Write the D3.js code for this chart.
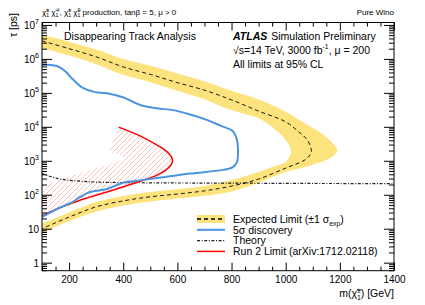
<!DOCTYPE html>
<html>
<head>
<meta charset="utf-8">
<script src="https://cdn.jsdelivr.net/npm/d3@7"></script>
<style>
  body { margin: 0; background: #fff; }
  text { font-family: "Liberation Sans", Arial, Helvetica, sans-serif; fill: #000; }
</style>
</head>
<body>
<div id="chart"></div>
<script>
// --- data ---
// expected limit, central line: upper branch -> nose -> lower branch
const expMass = [100, 200, 300, 400, 500, 600, 700, 800, 900, 1000, 1050, 1080, 1095, 1090, 1070, 1000, 900, 800, 700, 600, 500, 400, 300, 200, 100];
const expTau  = [3.4e6, 2.0e6, 1.15e6, 5.8e5, 3.5e5, 2.0e5, 1.2e5, 6.2e4, 2.9e4, 1.4e4, 6900, 4100, 2000, 1500, 1050, 610, 290, 180, 130, 105, 87, 66, 44, 22, 10];
// +1 sigma (outer) contour
const expHiMass = [100, 200, 300, 400, 500, 600, 700, 800, 900, 1000, 1050, 1100, 1150, 1190, 1150, 1100, 1050, 1000, 900, 800, 700, 600, 500, 400, 300, 200, 100];
const expHiTau  = [5.1e6, 3.2e6, 1.9e6, 1.0e6, 6.3e5, 3.7e5, 2.2e5, 1.15e5, 6.4e4, 2.8e4, 1.6e4, 9300, 5000, 1950, 1050, 770, 590, 465, 225, 125, 93, 77, 63, 48, 32, 16.5, 7.6];
// -1 sigma (inner) contour
const expLoMass = [100, 200, 300, 400, 500, 600, 700, 800, 900, 950, 1000, 1020, 1000, 950, 900, 800, 700, 600, 500, 400, 300, 200, 100];
const expLoTau  = [2.1e6, 1.25e6, 7.0e5, 3.4e5, 2.05e5, 1.15e5, 6.4e4, 3.1e4, 1.8e4, 9800, 4100, 1800, 920, 660, 465, 270, 182, 145, 121, 92, 61, 30, 14];
// 5 sigma discovery
const discMass = [100, 155, 185, 214, 251, 296, 340, 399, 462, 525, 584, 647, 709, 757, 805, 820, 824, 820, 805, 768, 647, 525, 462, 399, 340, 277, 240, 214, 155, 100];
const discTau  = [6.9e5, 6.2e5, 4.4e5, 2.5e5, 1.4e5, 1.05e5, 9.8e4, 7.4e4, 4.4e4, 3.5e4, 3.1e4, 2.3e4, 1.6e4, 1.1e4, 7400, 4100, 2100, 910, 650, 540, 420, 310, 265, 225, 148, 120, 85, 62, 38, 22];
// theory
const theoryMass = [100, 150, 200, 250, 300, 400, 600, 800, 1000, 1200, 1400];
const theoryTau  = [420, 310, 268, 248, 236, 228, 222, 220, 216, 214, 213];
// run 2 limit (arXiv:1712.02118)
const run2Mass = [383, 462, 525, 558, 580, 580, 558, 525, 462, 399, 340, 277, 251, 214, 155, 100];
const run2Tau  = [9800, 5400, 2900, 1950, 1200, 850, 540, 380, 250, 170, 120, 85, 74, 58, 38, 24];

const xTicks = [200, 400, 600, 800, 1000, 1200, 1400];
const yTicks = [1, 10, 1e2, 1e3, 1e4, 1e5, 1e6, 1e7];

const legendItems = ["Expected Limit", "5σ discovery", "Theory", "Run 2 Limit (arXiv:1712.02118)"];

// --- layout ---
const width = 425, height = 305;
const L = 42, R = 394, T = 22.5, B = 270.7;
const FS = 10.5;

const svg = d3.select("#chart").append("svg")
  .attr("width", width)
  .attr("height", height);

const x = d3.scaleLinear().domain([100, 1400]).range([L, R]);
const y = d3.scaleLog().domain([0.58, 1.18e7]).range([B, T]);

const defs = svg.append("defs");
defs.append("clipPath").attr("id", "clip")
  .append("rect").attr("x", L).attr("y", T).attr("width", R - L).attr("height", B - T);
defs.append("pattern")
  .attr("id", "hatch")
  .attr("patternUnits", "userSpaceOnUse")
  .attr("width", 5).attr("height", 5)
  .append("path")
  .attr("d", "M-1,1 l2,-2 M0,5 l5,-5 M4,6 l2,-2")
  .attr("stroke", "#f79a9a")
  .attr("stroke-width", 0.6);

// rich text helper: segments [text, kind] with kind n / sub / sup / supback
function rich(sel, segs, fs) {
  let level = 0;
  segs.forEach(([t, k]) => {
    const target = k === "sub" ? fs * 0.3 : (k === "sup" || k === "supback") ? -fs * 0.42 : 0;
    const ts = sel.append("tspan").attr("dy", target - level).text(t);
    if (k !== "n") ts.style("font-size", (fs * 0.65) + "px");
    if (k === "supback") ts.attr("dx", -fs * 0.36);
    level = target;
  });
}
const chi = (sup) => [["χ\u0303", "n"], ["1", "sub"], [sup, "supback"]];

const plot = svg.append("g").attr("clip-path", "url(#clip)");
const line = d3.line().x(d => x(d[0])).y(d => y(d[1])).curve(d3.curveCatmullRom.alpha(0.5));

// --- yellow band ---
const hiPts = d3.zip(expHiMass, expHiTau);
const loPts = d3.zip(expLoMass, expLoTau).reverse();
const bandD = line(hiPts) + "L" + line(loPts).slice(1) + "Z";
plot.append("path").attr("d", bandD).attr("fill", "#fde37e").attr("stroke", "none");

// --- run 2 hatched strip ---
const gHatch = plot.append("g");

// --- theory ---
plot.append("path").datum(d3.zip(theoryMass, theoryTau))
  .attr("d", line).attr("fill", "none")
  .attr("stroke", "#222").attr("stroke-width", 1.2)
  .attr("stroke-dasharray", "3,1.6,1,1.6");

// --- expected ---
plot.append("path").datum(d3.zip(expMass, expTau))
  .attr("d", line).attr("fill", "none")
  .attr("stroke", "#000").attr("stroke-width", 0.9)
  .attr("stroke-dasharray", "4,3");

// --- run 2 limit ---
const run2Path = plot.append("path").datum(d3.zip(run2Mass, run2Tau))
  .attr("d", line).attr("fill", "none")
  .attr("stroke", "#ff0000").attr("stroke-width", 1.5);

// hatch strip along the inside of the run 2 curve (ROOT style)
const node = run2Path.node();
const len = node.getTotalLength();
const pts = d3.range(0, len, 1).map(l => node.getPointAtLength(l));
pts.push(node.getPointAtLength(len));
const hw = 26;
const off = pts.map((p, i) => {
  const a = pts[Math.max(i - 3, 0)], b = pts[Math.min(i + 3, pts.length - 1)];
  const dx = b.x - a.x, dy = b.y - a.y, n = Math.hypot(dx, dy) || 1;
  return [p.x - hw * dy / n, p.y + hw * dx / n];
});
const strip = pts.map(p => [p.x, p.y]).concat(off.reverse());
gHatch.append("path")
  .attr("d", "M" + strip.map(p => p.join(",")).join("L") + "Z")
  .attr("fill", "url(#hatch)").attr("stroke", "none");

// --- 5 sigma discovery ---
plot.append("path").datum(d3.zip(discMass, discTau))
  .attr("d", line).attr("fill", "none")
  .attr("stroke", "#4a94e0").attr("stroke-width", 2);

// --- axes (ticks inside on all four sides) ---
const xMinor = d3.range(100, 1401, 50).filter(v => !xTicks.includes(v));
const yMinor = [];
for (let e = -1; e <= 7; e++) for (let k = 2; k <= 9; k++) {
  const v = k * Math.pow(10, e);
  if (v > 0.58 && v < 1.18e7) yMinor.push(v);
}

function styleAxis(g) {
  g.select(".domain").remove();
  g.selectAll(".tick line").attr("stroke", "#000");
  g.selectAll("text").style("font-size", "10px").attr("fill", "#000")
    .style("font-family", "'Liberation Sans', Arial, sans-serif");
}

const gx = svg.append("g").attr("transform", `translate(0,${B})`)
  .call(d3.axisBottom(x).tickValues(xTicks).tickSize(-8).tickPadding(5).tickFormat(d3.format("d")));
styleAxis(gx);
svg.append("g").attr("transform", `translate(0,${B})`)
  .call(d3.axisBottom(x).tickValues(xMinor).tickSize(-4).tickFormat(""))
  .call(styleAxis);
svg.append("g").attr("transform", `translate(0,${T})`)
  .call(d3.axisTop(x).tickValues(xTicks).tickSize(-8).tickFormat(""))
  .call(styleAxis);
svg.append("g").attr("transform", `translate(0,${T})`)
  .call(d3.axisTop(x).tickValues(xMinor).tickSize(-4).tickFormat(""))
  .call(styleAxis);

const gy = svg.append("g").attr("transform", `translate(${L},0)`)
  .call(d3.axisLeft(y).tickValues(yTicks).tickSize(-10).tickPadding(3).tickFormat(""));
styleAxis(gy);
svg.append("g").attr("transform", `translate(${L},0)`)
  .call(d3.axisLeft(y).tickValues(yMinor).tickSize(-5).tickFormat(""))
  .call(styleAxis);
svg.append("g").attr("transform", `translate(${R},0)`)
  .call(d3.axisRight(y).tickValues(yTicks).tickSize(-10).tickFormat(""))
  .call(styleAxis);
svg.append("g").attr("transform", `translate(${R},0)`)
  .call(d3.axisRight(y).tickValues(yMinor).tickSize(-5).tickFormat(""))
  .call(styleAxis);

// y tick labels as 10^n
gy.selectAll(".tick").each(function (d) {
  const e = Math.round(Math.log10(d));
  const t = d3.select(this).select("text").text(null)
    .attr("x", -3).attr("dy", "0.35em").attr("text-anchor", "end");
  if (e <= 1) { t.text(e === 0 ? "1" : "10"); return; }
  t.append("tspan").text("10");
  t.append("tspan").attr("dy", -4.5).style("font-size", "7px").text(e);
});

// frame
svg.append("rect").attr("x", L).attr("y", T).attr("width", R - L).attr("height", B - T)
  .attr("fill", "none").attr("stroke", "#000").attr("stroke-width", 1);

// --- axis titles ---
const xt = svg.append("text").attr("x", R).attr("y", 297).attr("text-anchor", "end")
  .style("font-size", FS + "px");
rich(xt, [["m(", "n"], ...chi("±"), [") [GeV]", "n"]], FS);

svg.append("text")
  .attr("transform", "translate(16.5,13) rotate(-90)")
  .attr("text-anchor", "end")
  .style("font-size", FS + "px")
  .text("τ [ps]");

// --- header ---
const hdr = svg.append("text").attr("x", L).attr("y", 15).style("font-size", "8px");
rich(hdr, [...chi("±"), [" ", "n"], ...chi("∓"), [", ", "n"], ...chi("±"), [" ", "n"], ...chi("0"),
  [" production, tanβ = 5, μ > 0", "n"]], 8);
svg.append("text").attr("x", R).attr("y", 15).attr("text-anchor", "end")
  .style("font-size", "8px").text("Pure Wino");

// --- labels in plot ---
svg.append("text").attr("x", 64).attr("y", 39.5).style("font-size", FS + "px")
  .text("Disappearing Track Analysis");

const atl = svg.append("text").attr("x", 233).attr("y", 39.5).style("font-size", FS + "px");
atl.append("tspan").style("font-weight", "bold").style("font-style", "italic").text("ATLAS");
atl.append("tspan").attr("dx", 4).text("Simulation Preliminary");

const cm = svg.append("text").attr("x", 233).attr("y", 53.5).style("font-size", FS + "px");
rich(cm, [["√s=14 TeV, 3000 fb", "n"], ["-1", "sup"], [", μ = 200", "n"]], FS);

svg.append("text").attr("x", 233).attr("y", 67.5).style("font-size", FS + "px")
  .text("All limits at 95% CL");

// --- legend ---
const legY = [219, 229.8, 240.6, 251.4];
const lx0 = 197, lx1 = 225, ltx = 233;
const leg = svg.append("g");
leg.append("rect").attr("x", lx0).attr("y", legY[0] - 4).attr("width", lx1 - lx0).attr("height", 8)
  .attr("fill", "#fde37e");
leg.append("line").attr("x1", lx0).attr("x2", lx1).attr("y1", legY[0]).attr("y2", legY[0])
  .attr("stroke", "#000").attr("stroke-width", 1.3).attr("stroke-dasharray", "4,3");
leg.append("line").attr("x1", lx0).attr("x2", lx1).attr("y1", legY[1]).attr("y2", legY[1])
  .attr("stroke", "#4a94e0").attr("stroke-width", 2);
leg.append("line").attr("x1", lx0).attr("x2", lx1).attr("y1", legY[2]).attr("y2", legY[2])
  .attr("stroke", "#222").attr("stroke-width", 1.2).attr("stroke-dasharray", "3,1.6,1,1.6");
leg.append("line").attr("x1", lx0).attr("x2", lx1).attr("y1", legY[3]).attr("y2", legY[3])
  .attr("stroke", "#ff0000").attr("stroke-width", 1.5);

const t0 = leg.append("text").attr("x", ltx).attr("y", legY[0] + 3.7).style("font-size", FS + "px");
rich(t0, [[legendItems[0] + " (±1 σ", "n"], ["exp", "sub"], [")", "n"]], FS);
legendItems.slice(1).forEach((s, i) => {
  leg.append("text").attr("x", ltx).attr("y", legY[i + 1] + 3.7).style("font-size", FS + "px").text(s);
});
</script>
</body>
</html>
